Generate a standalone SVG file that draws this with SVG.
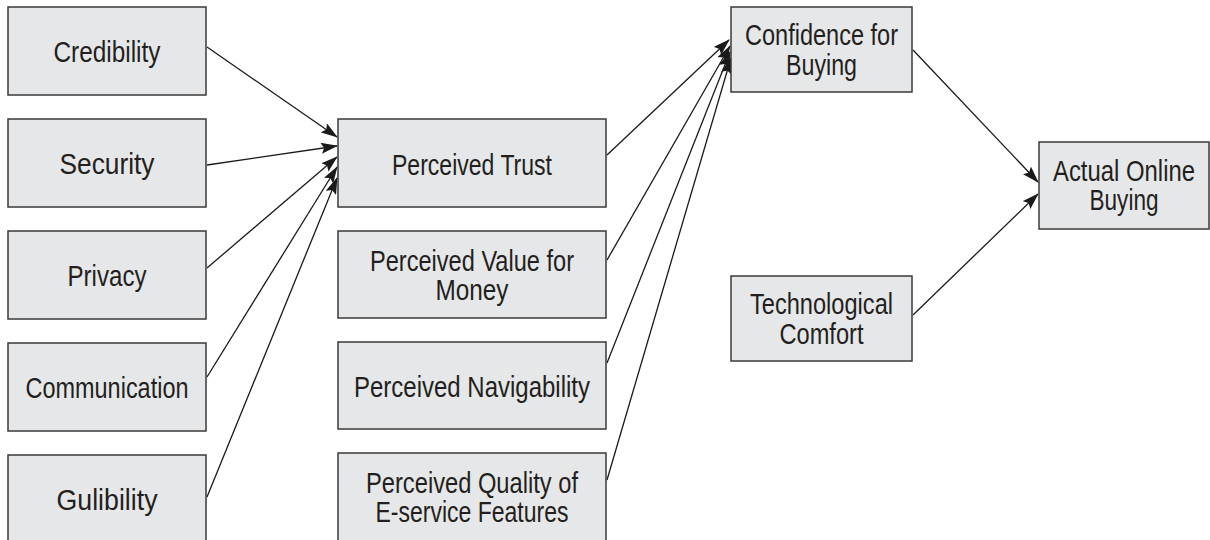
<svg xmlns="http://www.w3.org/2000/svg" width="1210" height="540" viewBox="0 0 1210 540">
<defs>
<style>
.box{fill:#e6e7e8;stroke:#3a3a3a;stroke-width:1.5}
.t{font-family:"Liberation Sans",Arial,sans-serif;font-size:29px;fill:#231f20;text-anchor:middle}
.c{stroke:#1a1a1a;stroke-width:1.3;fill:none;marker-end:url(#ah)}
</style>
<marker id="ah" markerWidth="17" markerHeight="11" refX="16" refY="5.5" orient="auto" markerUnits="userSpaceOnUse">
<path d="M0,0 L17,5.5 L0,11 L3,5.5 Z" fill="#1a1a1a"/>
</marker>
</defs>
<rect width="1210" height="540" fill="#ffffff"/>
<g id="connectors">
<line class="c" x1="207" y1="47" x2="337" y2="137"/>
<line class="c" x1="207" y1="165" x2="337" y2="146"/>
<line class="c" x1="207" y1="268" x2="337" y2="157"/>
<line class="c" x1="207" y1="377" x2="337" y2="167"/>
<line class="c" x1="207" y1="497" x2="337" y2="178"/>
<line class="c" x1="607" y1="155" x2="729" y2="40"/>
<line class="c" x1="607" y1="260" x2="730" y2="46"/>
<line class="c" x1="607" y1="363" x2="730" y2="52"/>
<line class="c" x1="607" y1="480" x2="731" y2="58"/>
<line class="c" x1="913" y1="50" x2="1038" y2="182"/>
<line class="c" x1="913" y1="315" x2="1038" y2="194"/>
</g>
<g id="credibility"><rect class="box" x="8" y="7" width="198" height="88"/><text class="t" x="107" y="62" textLength="107" lengthAdjust="spacingAndGlyphs">Credibility</text></g>
<g id="security"><rect class="box" x="8" y="119" width="198" height="88"/><text class="t" x="107" y="174" textLength="95" lengthAdjust="spacingAndGlyphs">Security</text></g>
<g id="privacy"><rect class="box" x="8" y="231" width="198" height="88"/><text class="t" x="107" y="286" textLength="79" lengthAdjust="spacingAndGlyphs">Privacy</text></g>
<g id="communication"><rect class="box" x="8" y="343" width="198" height="88"/><text class="t" x="107" y="398" textLength="163" lengthAdjust="spacingAndGlyphs">Communication</text></g>
<g id="gulibility"><rect class="box" x="8" y="455" width="198" height="88"/><text class="t" x="107" y="510" textLength="101" lengthAdjust="spacingAndGlyphs">Gulibility</text></g>
<g id="perceived-trust"><rect class="box" x="338" y="119" width="268" height="88"/><text class="t" x="472" y="175" textLength="160" lengthAdjust="spacingAndGlyphs">Perceived Trust</text></g>
<g id="perceived-value"><rect class="box" x="338" y="231" width="268" height="87"/><text class="t" x="472" y="271" textLength="204" lengthAdjust="spacingAndGlyphs">Perceived Value for</text><text class="t" x="472" y="300" textLength="73" lengthAdjust="spacingAndGlyphs">Money</text></g>
<g id="perceived-navigability"><rect class="box" x="338" y="342" width="268" height="87"/><text class="t" x="472" y="397" textLength="236" lengthAdjust="spacingAndGlyphs">Perceived Navigability</text></g>
<g id="perceived-quality"><rect class="box" x="338" y="453" width="268" height="88"/><text class="t" x="472" y="493" textLength="212" lengthAdjust="spacingAndGlyphs">Perceived Quality of</text><text class="t" x="472" y="522" textLength="193" lengthAdjust="spacingAndGlyphs">E-service Features</text></g>
<g id="confidence"><rect class="box" x="731" y="7" width="181" height="85"/><text class="t" x="821.500" y="45" textLength="153" lengthAdjust="spacingAndGlyphs">Confidence for</text><text class="t" x="821.500" y="75" textLength="71" lengthAdjust="spacingAndGlyphs">Buying</text></g>
<g id="technological"><rect class="box" x="731" y="276" width="181" height="85"/><text class="t" x="821.500" y="314" textLength="143" lengthAdjust="spacingAndGlyphs">Technological</text><text class="t" x="821.500" y="344" textLength="84" lengthAdjust="spacingAndGlyphs">Comfort</text></g>
<g id="actual"><rect class="box" x="1039" y="142" width="170" height="87"/><text class="t" x="1124" y="181" textLength="142" lengthAdjust="spacingAndGlyphs">Actual Online</text><text class="t" x="1124" y="210" textLength="69" lengthAdjust="spacingAndGlyphs">Buying</text></g>
</svg>
